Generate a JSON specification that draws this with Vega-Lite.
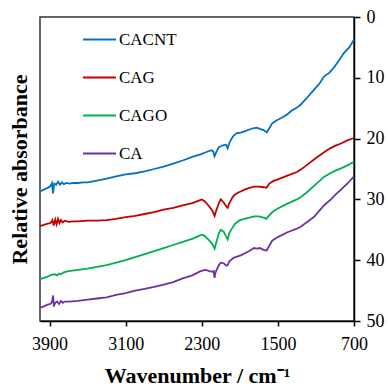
{
  "$schema": "https://vega.github.io/schema/vega-lite/v6.json",
  "width": 314,
  "height": 304,
  "autosize": {"type": "none"},
  "padding": {"left": 40, "top": 17, "right": 34, "bottom": 67},
  "config": {
    "font": "Liberation Serif",
    "view": {"stroke": "#333333", "strokeWidth": 1.5},
    "axis": {"grid": false, "domainColor": "#000000", "tickColor": "#000000", "labelColor": "#000000", "titleColor": "#000000", "domainWidth": 1.5, "tickWidth": 1.5}
  },
  "datasets": {
    "spectra": [
      {"series":"CACNT","wavenumber":4000,"absorbance":28.7},{"series":"CACNT","wavenumber":3960,"absorbance":28.4},{"series":"CACNT","wavenumber":3920,"absorbance":28.1},{"series":"CACNT","wavenumber":3890,"absorbance":27.8},{"series":"CACNT","wavenumber":3875,"absorbance":27.3},{"series":"CACNT","wavenumber":3863,"absorbance":29.0},{"series":"CACNT","wavenumber":3850,"absorbance":27.4},{"series":"CACNT","wavenumber":3830,"absorbance":27.6},{"series":"CACNT","wavenumber":3810,"absorbance":27.1},{"series":"CACNT","wavenumber":3790,"absorbance":27.6},{"series":"CACNT","wavenumber":3770,"absorbance":27.2},{"series":"CACNT","wavenumber":3750,"absorbance":27.5},{"series":"CACNT","wavenumber":3720,"absorbance":27.3},{"series":"CACNT","wavenumber":3690,"absorbance":27.4},{"series":"CACNT","wavenumber":3650,"absorbance":27.3},{"series":"CACNT","wavenumber":3600,"absorbance":27.3},{"series":"CACNT","wavenumber":3550,"absorbance":27.2},{"series":"CACNT","wavenumber":3500,"absorbance":27.2},{"series":"CACNT","wavenumber":3400,"absorbance":26.9},{"series":"CACNT","wavenumber":3300,"absorbance":26.6},{"series":"CACNT","wavenumber":3200,"absorbance":26.2},{"series":"CACNT","wavenumber":3100,"absorbance":25.9},{"series":"CACNT","wavenumber":3000,"absorbance":25.7},{"series":"CACNT","wavenumber":2900,"absorbance":25.4},{"series":"CACNT","wavenumber":2800,"absorbance":25.0},{"series":"CACNT","wavenumber":2700,"absorbance":24.6},{"series":"CACNT","wavenumber":2600,"absorbance":24.1},{"series":"CACNT","wavenumber":2500,"absorbance":23.6},{"series":"CACNT","wavenumber":2400,"absorbance":23.0},{"series":"CACNT","wavenumber":2313,"absorbance":22.6},{"series":"CACNT","wavenumber":2250,"absorbance":22.2},{"series":"CACNT","wavenumber":2200,"absorbance":21.9},{"series":"CACNT","wavenumber":2180,"absorbance":22.1},{"series":"CACNT","wavenumber":2166,"absorbance":22.9},{"series":"CACNT","wavenumber":2150,"absorbance":22.3},{"series":"CACNT","wavenumber":2120,"absorbance":21.4},{"series":"CACNT","wavenumber":2080,"absorbance":21.1},{"series":"CACNT","wavenumber":2045,"absorbance":21.0},{"series":"CACNT","wavenumber":2028,"absorbance":21.6},{"series":"CACNT","wavenumber":2012,"absorbance":20.8},{"series":"CACNT","wavenumber":1990,"absorbance":20.1},{"series":"CACNT","wavenumber":1965,"absorbance":19.5},{"series":"CACNT","wavenumber":1930,"absorbance":19.1},{"series":"CACNT","wavenumber":1891,"absorbance":19.0},{"series":"CACNT","wavenumber":1850,"absorbance":18.8},{"series":"CACNT","wavenumber":1800,"absorbance":18.5},{"series":"CACNT","wavenumber":1760,"absorbance":18.3},{"series":"CACNT","wavenumber":1720,"absorbance":18.2},{"series":"CACNT","wavenumber":1690,"absorbance":18.4},{"series":"CACNT","wavenumber":1650,"absorbance":18.6},{"series":"CACNT","wavenumber":1617,"absorbance":19.0},{"series":"CACNT","wavenumber":1590,"absorbance":18.3},{"series":"CACNT","wavenumber":1560,"absorbance":17.5},{"series":"CACNT","wavenumber":1533,"absorbance":17.2},{"series":"CACNT","wavenumber":1500,"absorbance":16.9},{"series":"CACNT","wavenumber":1450,"absorbance":16.5},{"series":"CACNT","wavenumber":1400,"absorbance":16.0},{"series":"CACNT","wavenumber":1364,"absorbance":15.5},{"series":"CACNT","wavenumber":1300,"absorbance":14.9},{"series":"CACNT","wavenumber":1259,"absorbance":14.4},{"series":"CACNT","wavenumber":1200,"absorbance":13.4},{"series":"CACNT","wavenumber":1122,"absorbance":12.0},{"series":"CACNT","wavenumber":1060,"absorbance":10.9},{"series":"CACNT","wavenumber":1016,"absorbance":9.8},{"series":"CACNT","wavenumber":960,"absorbance":9.2},{"series":"CACNT","wavenumber":911,"absorbance":8.3},{"series":"CACNT","wavenumber":860,"absorbance":7.2},{"series":"CACNT","wavenumber":805,"absorbance":5.9},{"series":"CACNT","wavenumber":750,"absorbance":5.0},{"series":"CACNT","wavenumber":700,"absorbance":3.7},

      {"series":"CAG","wavenumber":4000,"absorbance":34.4},{"series":"CAG","wavenumber":3960,"absorbance":34.2},{"series":"CAG","wavenumber":3920,"absorbance":34.0},{"series":"CAG","wavenumber":3890,"absorbance":33.9},{"series":"CAG","wavenumber":3870,"absorbance":33.4},{"series":"CAG","wavenumber":3855,"absorbance":34.3},{"series":"CAG","wavenumber":3840,"absorbance":33.3},{"series":"CAG","wavenumber":3825,"absorbance":34.1},{"series":"CAG","wavenumber":3810,"absorbance":33.2},{"series":"CAG","wavenumber":3795,"absorbance":33.9},{"series":"CAG","wavenumber":3780,"absorbance":33.4},{"series":"CAG","wavenumber":3760,"absorbance":33.8},{"series":"CAG","wavenumber":3740,"absorbance":33.5},{"series":"CAG","wavenumber":3700,"absorbance":33.7},{"series":"CAG","wavenumber":3650,"absorbance":33.6},{"series":"CAG","wavenumber":3600,"absorbance":33.6},{"series":"CAG","wavenumber":3500,"absorbance":33.5},{"series":"CAG","wavenumber":3400,"absorbance":33.5},{"series":"CAG","wavenumber":3300,"absorbance":33.4},{"series":"CAG","wavenumber":3200,"absorbance":33.2},{"series":"CAG","wavenumber":3100,"absorbance":32.9},{"series":"CAG","wavenumber":3000,"absorbance":32.7},{"series":"CAG","wavenumber":2900,"absorbance":32.4},{"series":"CAG","wavenumber":2800,"absorbance":32.1},{"series":"CAG","wavenumber":2700,"absorbance":31.7},{"series":"CAG","wavenumber":2600,"absorbance":31.4},{"series":"CAG","wavenumber":2500,"absorbance":31.0},{"series":"CAG","wavenumber":2400,"absorbance":30.6},{"series":"CAG","wavenumber":2330,"absorbance":30.2},{"series":"CAG","wavenumber":2300,"absorbance":30.0},{"series":"CAG","wavenumber":2270,"absorbance":30.3},{"series":"CAG","wavenumber":2230,"absorbance":31.0},{"series":"CAG","wavenumber":2190,"absorbance":31.8},{"series":"CAG","wavenumber":2165,"absorbance":32.7},{"series":"CAG","wavenumber":2150,"absorbance":31.9},{"series":"CAG","wavenumber":2120,"absorbance":30.6},{"series":"CAG","wavenumber":2100,"absorbance":30.0},{"series":"CAG","wavenumber":2070,"absorbance":30.5},{"series":"CAG","wavenumber":2040,"absorbance":31.2},{"series":"CAG","wavenumber":2028,"absorbance":31.4},{"series":"CAG","wavenumber":2010,"absorbance":30.6},{"series":"CAG","wavenumber":1975,"absorbance":29.6},{"series":"CAG","wavenumber":1950,"absorbance":29.2},{"series":"CAG","wavenumber":1920,"absorbance":28.9},{"series":"CAG","wavenumber":1891,"absorbance":28.7},{"series":"CAG","wavenumber":1850,"absorbance":28.4},{"series":"CAG","wavenumber":1800,"absorbance":28.1},{"series":"CAG","wavenumber":1750,"absorbance":27.9},{"series":"CAG","wavenumber":1700,"absorbance":27.9},{"series":"CAG","wavenumber":1650,"absorbance":28.0},{"series":"CAG","wavenumber":1620,"absorbance":28.1},{"series":"CAG","wavenumber":1590,"absorbance":27.4},{"series":"CAG","wavenumber":1550,"absorbance":27.0},{"series":"CAG","wavenumber":1500,"absorbance":26.7},{"series":"CAG","wavenumber":1400,"absorbance":26.1},{"series":"CAG","wavenumber":1300,"absorbance":25.5},{"series":"CAG","wavenumber":1259,"absorbance":25.1},{"series":"CAG","wavenumber":1200,"absorbance":24.4},{"series":"CAG","wavenumber":1100,"absorbance":23.2},{"series":"CAG","wavenumber":1048,"absorbance":22.6},{"series":"CAG","wavenumber":1000,"absorbance":22.1},{"series":"CAG","wavenumber":950,"absorbance":21.6},{"series":"CAG","wavenumber":900,"absorbance":21.2},{"series":"CAG","wavenumber":837,"absorbance":20.8},{"series":"CAG","wavenumber":770,"absorbance":20.3},{"series":"CAG","wavenumber":700,"absorbance":19.9},

      {"series":"CAGO","wavenumber":4000,"absorbance":43.1},{"series":"CAGO","wavenumber":3960,"absorbance":42.9},{"series":"CAGO","wavenumber":3920,"absorbance":42.7},{"series":"CAGO","wavenumber":3880,"absorbance":42.4},{"series":"CAGO","wavenumber":3850,"absorbance":42.3},{"series":"CAGO","wavenumber":3820,"absorbance":42.5},{"series":"CAGO","wavenumber":3800,"absorbance":42.2},{"series":"CAGO","wavenumber":3780,"absorbance":42.3},{"series":"CAGO","wavenumber":3750,"absorbance":42.0},{"series":"CAGO","wavenumber":3700,"absorbance":41.8},{"series":"CAGO","wavenumber":3600,"absorbance":41.6},{"series":"CAGO","wavenumber":3500,"absorbance":41.4},{"series":"CAGO","wavenumber":3400,"absorbance":41.1},{"series":"CAGO","wavenumber":3300,"absorbance":40.8},{"series":"CAGO","wavenumber":3200,"absorbance":40.4},{"series":"CAGO","wavenumber":3100,"absorbance":40.0},{"series":"CAGO","wavenumber":3000,"absorbance":39.5},{"series":"CAGO","wavenumber":2900,"absorbance":39.0},{"series":"CAGO","wavenumber":2800,"absorbance":38.5},{"series":"CAGO","wavenumber":2700,"absorbance":38.0},{"series":"CAGO","wavenumber":2600,"absorbance":37.5},{"series":"CAGO","wavenumber":2500,"absorbance":37.0},{"series":"CAGO","wavenumber":2400,"absorbance":36.5},{"series":"CAGO","wavenumber":2330,"absorbance":36.0},{"series":"CAGO","wavenumber":2300,"absorbance":35.8},{"series":"CAGO","wavenumber":2270,"absorbance":36.0},{"series":"CAGO","wavenumber":2230,"absorbance":36.6},{"series":"CAGO","wavenumber":2190,"absorbance":37.3},{"series":"CAGO","wavenumber":2165,"absorbance":38.1},{"series":"CAGO","wavenumber":2150,"absorbance":37.2},{"series":"CAGO","wavenumber":2120,"absorbance":35.6},{"series":"CAGO","wavenumber":2100,"absorbance":35.0},{"series":"CAGO","wavenumber":2070,"absorbance":35.3},{"series":"CAGO","wavenumber":2040,"absorbance":36.2},{"series":"CAGO","wavenumber":2028,"absorbance":36.6},{"series":"CAGO","wavenumber":2010,"absorbance":35.5},{"series":"CAGO","wavenumber":1975,"absorbance":34.6},{"series":"CAGO","wavenumber":1950,"absorbance":34.0},{"series":"CAGO","wavenumber":1900,"absorbance":33.4},{"series":"CAGO","wavenumber":1850,"absorbance":33.2},{"series":"CAGO","wavenumber":1800,"absorbance":33.0},{"series":"CAGO","wavenumber":1750,"absorbance":32.8},{"series":"CAGO","wavenumber":1700,"absorbance":32.8},{"series":"CAGO","wavenumber":1650,"absorbance":33.0},{"series":"CAGO","wavenumber":1620,"absorbance":33.2},{"series":"CAGO","wavenumber":1590,"absorbance":32.6},{"series":"CAGO","wavenumber":1550,"absorbance":32.0},{"series":"CAGO","wavenumber":1500,"absorbance":31.5},{"series":"CAGO","wavenumber":1400,"absorbance":30.7},{"series":"CAGO","wavenumber":1300,"absorbance":30.0},{"series":"CAGO","wavenumber":1259,"absorbance":29.6},{"series":"CAGO","wavenumber":1200,"absorbance":28.9},{"series":"CAGO","wavenumber":1100,"absorbance":27.5},{"series":"CAGO","wavenumber":1016,"absorbance":26.3},{"series":"CAGO","wavenumber":950,"absorbance":25.7},{"series":"CAGO","wavenumber":900,"absorbance":25.3},{"series":"CAGO","wavenumber":837,"absorbance":24.9},{"series":"CAGO","wavenumber":770,"absorbance":24.4},{"series":"CAGO","wavenumber":700,"absorbance":23.8},

      {"series":"CA","wavenumber":4000,"absorbance":47.8},{"series":"CA","wavenumber":3960,"absorbance":47.6},{"series":"CA","wavenumber":3920,"absorbance":47.3},{"series":"CA","wavenumber":3890,"absorbance":47.2},{"series":"CA","wavenumber":3875,"absorbance":46.9},{"series":"CA","wavenumber":3862,"absorbance":45.8},{"series":"CA","wavenumber":3855,"absorbance":47.6},{"series":"CA","wavenumber":3840,"absorbance":47.0},{"series":"CA","wavenumber":3820,"absorbance":46.8},{"series":"CA","wavenumber":3800,"absorbance":47.2},{"series":"CA","wavenumber":3780,"absorbance":46.7},{"series":"CA","wavenumber":3760,"absorbance":47.0},{"series":"CA","wavenumber":3740,"absorbance":46.8},{"series":"CA","wavenumber":3700,"absorbance":46.8},{"series":"CA","wavenumber":3600,"absorbance":46.7},{"series":"CA","wavenumber":3500,"absorbance":46.5},{"series":"CA","wavenumber":3400,"absorbance":46.3},{"series":"CA","wavenumber":3300,"absorbance":46.1},{"series":"CA","wavenumber":3200,"absorbance":45.7},{"series":"CA","wavenumber":3100,"absorbance":45.4},{"series":"CA","wavenumber":3000,"absorbance":45.0},{"series":"CA","wavenumber":2900,"absorbance":44.7},{"series":"CA","wavenumber":2800,"absorbance":44.4},{"series":"CA","wavenumber":2700,"absorbance":44.0},{"series":"CA","wavenumber":2600,"absorbance":43.6},{"series":"CA","wavenumber":2500,"absorbance":43.0},{"series":"CA","wavenumber":2400,"absorbance":42.5},{"series":"CA","wavenumber":2313,"absorbance":41.8},{"series":"CA","wavenumber":2260,"absorbance":41.6},{"series":"CA","wavenumber":2220,"absorbance":41.8},{"series":"CA","wavenumber":2185,"absorbance":41.9},{"series":"CA","wavenumber":2175,"absorbance":41.8},{"series":"CA","wavenumber":2166,"absorbance":42.9},{"series":"CA","wavenumber":2155,"absorbance":42.0},{"series":"CA","wavenumber":2120,"absorbance":40.8},{"series":"CA","wavenumber":2100,"absorbance":40.4},{"series":"CA","wavenumber":2070,"absorbance":40.5},{"series":"CA","wavenumber":2040,"absorbance":40.9},{"series":"CA","wavenumber":2028,"absorbance":40.8},{"series":"CA","wavenumber":2010,"absorbance":40.2},{"series":"CA","wavenumber":1965,"absorbance":39.6},{"series":"CA","wavenumber":1930,"absorbance":39.4},{"series":"CA","wavenumber":1891,"absorbance":39.2},{"series":"CA","wavenumber":1850,"absorbance":38.9},{"series":"CA","wavenumber":1800,"absorbance":38.5},{"series":"CA","wavenumber":1750,"absorbance":38.0},{"series":"CA","wavenumber":1720,"absorbance":38.1},{"series":"CA","wavenumber":1690,"absorbance":38.0},{"series":"CA","wavenumber":1650,"absorbance":38.3},{"series":"CA","wavenumber":1617,"absorbance":38.4},{"series":"CA","wavenumber":1590,"absorbance":37.6},{"series":"CA","wavenumber":1560,"absorbance":36.8},{"series":"CA","wavenumber":1533,"absorbance":36.5},{"series":"CA","wavenumber":1500,"absorbance":36.2},{"series":"CA","wavenumber":1400,"absorbance":35.4},{"series":"CA","wavenumber":1300,"absorbance":34.8},{"series":"CA","wavenumber":1259,"absorbance":34.5},{"series":"CA","wavenumber":1200,"absorbance":33.8},{"series":"CA","wavenumber":1122,"absorbance":32.9},{"series":"CA","wavenumber":1050,"absorbance":31.6},{"series":"CA","wavenumber":1016,"absorbance":31.0},{"series":"CA","wavenumber":943,"absorbance":30.0},{"series":"CA","wavenumber":900,"absorbance":29.3},{"series":"CA","wavenumber":837,"absorbance":28.4},{"series":"CA","wavenumber":763,"absorbance":27.3},{"series":"CA","wavenumber":700,"absorbance":26.2}
    ]
  },
  "data": {"name": "spectra"},
  "encoding": {
    "x": {
      "field": "wavenumber", "type": "quantitative",
      "scale": {"domain": [700, 4000], "reverse": true, "nice": false, "zero": false},
      "axis": {"values": [3900, 3100, 2300, 1500, 700], "format": "d", "title": "Wavenumber / cm⁻¹", "labelFontSize": 18, "tickSize": 5, "labelPadding": 9, "titleFontSize": 22, "titleFontWeight": "bold", "titlePadding": 12, "labelFlush": false}
    },
    "color": {
      "field": "series", "type": "nominal",
      "scale": {"domain": ["CACNT", "CAG", "CAGO", "CA"], "range": ["#0070C0", "#C00000", "#00B050", "#7030A0"]},
      "legend": {"title": null, "orient": "none", "legendX": 42, "legendY": 5, "symbolType": "stroke", "symbolSize": 1089, "symbolStrokeWidth": 2, "labelFontSize": 17, "labelColor": "#000000", "labelOffset": 2, "rowPadding": 12, "padding": 0}
    }
  },
  "layer": [
    {
      "transform": [{"filter": "datum.series == 'CACNT' || datum.series == 'CAG'"}],
      "mark": {"type": "line", "strokeWidth": 1.8},
      "encoding": {
        "y": {"field": "absorbance", "type": "quantitative",
          "scale": {"domain": [0, 50], "reverse": true, "nice": false, "zero": false},
          "axis": {"orient": "right", "values": [0, 10, 20, 30, 40, 50], "title": null, "labelFontSize": 18, "tickSize": 6, "labelPadding": 6, "labelFlush": false}
        }
      }
    },
    {
      "transform": [{"filter": "datum.series == 'CAGO' || datum.series == 'CA'"}],
      "mark": {"type": "line", "strokeWidth": 1.8},
      "encoding": {
        "y": {"field": "absorbance", "type": "quantitative",
          "scale": {"domain": [0, 50], "reverse": true, "nice": false, "zero": false},
          "axis": {"orient": "left", "labels": false, "ticks": false, "domain": false, "title": "Relative absorbance", "titleFontSize": 22, "titleFontWeight": "bold", "titlePadding": 9}
        }
      }
    }
  ],
  "resolve": {"axis": {"y": "independent"}}
}
